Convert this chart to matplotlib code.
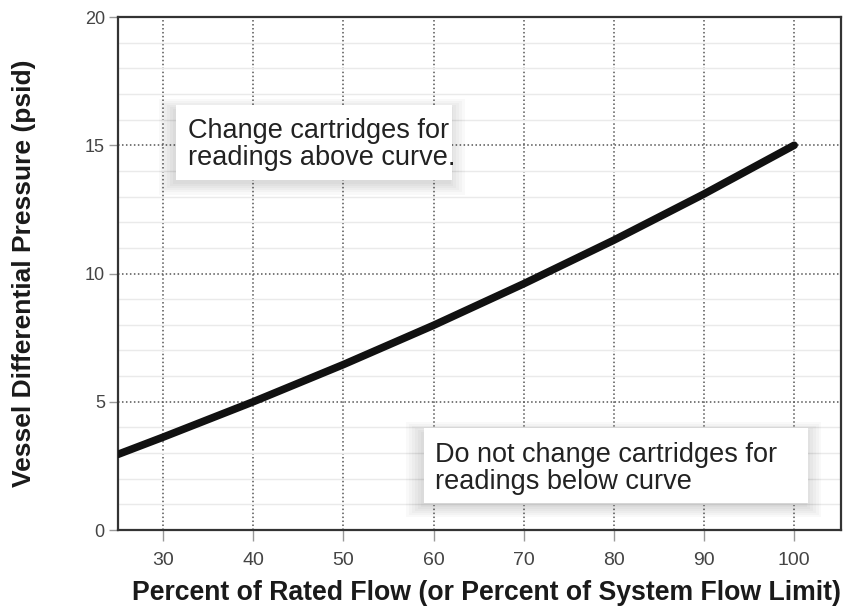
import matplotlib
matplotlib.use('Agg')
import matplotlib.pyplot as plt
from matplotlib.patches import Rectangle
from matplotlib.ticker import MultipleLocator

# values
flow_pct = [25, 30, 40, 50, 60, 70, 80, 90, 100]
pressure_psid = [2.95, 3.62, 5.0, 6.45, 7.98, 9.6, 11.3, 13.1, 15.0]

x_ticks = [30, 40, 50, 60, 70, 80, 90, 100]
y_ticks = [0, 5, 10, 15, 20]

note_above = 'Change cartridges for\nreadings above curve.'
note_below = 'Do not change cartridges for\nreadings below curve'

plt.rcParams['font.family'] = ['Liberation Sans', 'DejaVu Sans']

fig = plt.figure(figsize=(8.46, 6.06), dpi=100)
ax = fig.add_axes([0.1395, 0.1254, 0.8546, 0.8465])

ax.set_xlim(25, 105.2)
ax.set_ylim(0, 20)
ax.set_xticks(x_ticks)
ax.set_yticks(y_ticks)
ax.yaxis.set_minor_locator(MultipleLocator(1))

ax.grid(True, which='major', color='#555555', linestyle=(0, (1, 1.6)), linewidth=1.1)
ax.grid(True, which='minor', axis='y', color='#eaeaea', linestyle='-', linewidth=1.0)
ax.set_axisbelow(True)

for s in ax.spines.values():
    s.set_color('#333333')
    s.set_linewidth(1.6)

ax.tick_params(axis='x', which='major', length=8, width=1, color='#999999',
               labelsize=14, labelcolor='#444444', pad=8)
ax.tick_params(axis='y', which='major', length=6.5, width=1, color='#999999',
               labelsize=13, labelcolor='#444444', pad=3)
ax.tick_params(which='minor', length=0)

ax.plot(flow_pct, pressure_psid, color='#111111', linewidth=5.5,
        solid_capstyle='round', solid_joinstyle='round', zorder=5)


def note_box(x0, y0, w, h, txt, tx, ty):
    # soft shadow: stacked translucent rectangles
    for k in range(6):
        g = 0.004 * k
        ax.add_patch(Rectangle((x0 - 0.004 - g, y0 - 0.008 - g), w + 2 * g + 0.002, h + 2 * g,
                               transform=ax.transAxes, facecolor='#000000',
                               alpha=0.025, edgecolor='none', zorder=3))
    ax.add_patch(Rectangle((x0, y0), w, h, transform=ax.transAxes,
                           facecolor='white', edgecolor='none', zorder=3.5))
    ax.text(tx, ty, txt, transform=ax.transAxes, ha='left', va='center',
            fontsize=19.5, color='#222222', linespacing=1.05, zorder=4)


note_box(0.080, 0.682, 0.382, 0.146, note_above, 0.097, 0.752)
note_box(0.423, 0.053, 0.532, 0.146, note_below, 0.438, 0.119)

fig.text(0.575, 0.0099, 'Percent of Rated Flow (or Percent of System Flow Limit)',
         ha='center', va='baseline', fontsize=19.2, fontweight='bold', color='#1a1a1a')
fig.text(0.028, 0.5486, 'Vessel Differential Pressure (psid)', rotation=90,
         ha='center', va='center', fontsize=19, fontweight='bold', color='#1a1a1a')

fig.savefig('out.png', dpi=100)
